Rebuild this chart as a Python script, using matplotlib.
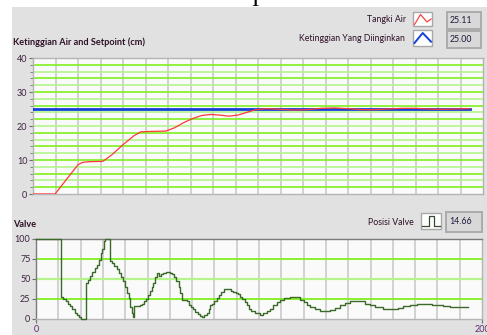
import matplotlib
matplotlib.use('Agg')
import matplotlib.pyplot as plt
from matplotlib.patches import Rectangle
from matplotlib.lines import Line2D
from matplotlib.ticker import MultipleLocator

W, H = 487, 335
plt.rcParams['font.family'] = ['Lato', 'DejaVu Sans']

# water level in the tank (cm)
level_t = [0, 9.8, 20, 22, 25, 31, 35, 40, 45, 48, 52, 59, 63, 67, 71, 75, 79, 83, 87, 91,
           95, 99, 104, 110, 116, 122, 128, 134, 140, 146, 152, 158, 164, 170, 176, 182, 188, 194]
level_v = [0, 0, 8.6, 9.3, 9.5, 9.6, 11.5, 14.5, 17.2, 18.3, 18.4, 18.5, 19.5, 21, 22.2, 23.1, 23.4,
           23.2, 22.9, 23.2, 24.0, 24.8, 25.1, 24.9, 24.7, 24.8, 25.2, 25.3, 25.1, 24.8, 24.8, 25.0,
           25.2, 25.2, 25.0, 24.9, 25.0, 25.11]
setpoint_t = [0, 194]
setpoint_v = [25.0, 25.0]

# valve position (%)
valve_t = [0, 11.1, 12.3, 13.3, 14.3, 15.3, 16.3, 17.3, 18.3, 19.3, 20.3, 22.3, 23.3, 24.3, 25.3,
           26.3, 27.3, 28.3, 29.0, 29.7, 30.4, 30.8, 33.2, 34.2, 35.2, 36.2, 37.2, 38.2, 39.2, 40.0,
           40.8, 41.6, 42.2, 42.9, 43.3, 44.1, 45.5, 46.6, 47.6, 48.6, 49.4, 50.2, 51.0, 51.8, 52.6,
           53.4, 54.2, 55.0, 56.0, 57.0, 58.5, 60.0, 61.0, 62.0, 63.0, 64.0, 64.6, 65.3, 67.5, 68.5,
           69.5, 70.5, 71.5, 72.5, 73.5, 74.5, 75.5, 76.5, 77.5, 78.0, 79.0, 80.0, 81.0, 82.0, 83.0,
           84.3, 85.5, 86.5, 87.5, 88.5, 89.5, 90.5, 91.5, 92.5, 93.5, 94.5, 95.5, 96.5, 98.0, 100.4,
           102.0, 103.5, 105.0, 106.5, 108.0, 109.5, 111.0, 113.9, 116.0, 118.4, 120.0, 121.5, 122.9,
           125.0, 127.4, 130.0, 131.8, 134.0, 136.3, 138.5, 140.8, 143.0, 145.3, 147.5, 149.8, 152.0,
           155.7, 160.2, 162.5, 164.7, 167.5, 170.7, 175.2, 177.5, 179.7, 182.5, 185.6, 190.0, 193.9]
valve_v = [100, 27, 25, 22, 19, 16, 12, 8, 5, 2, 0, 45, 49, 54, 59,
           64, 68, 74, 82, 88, 97, 100, 73, 70, 66, 62, 57, 53, 48, 40,
           33, 26, 15, 8, 3, 16, 16, 17, 19, 22, 25, 30, 35, 40, 45,
           52, 57, 54, 56, 58, 59, 58, 56, 53, 48, 40, 32, 24, 22, 18,
           15, 12, 9, 6, 4, 3, 5, 8, 13, 18, 19, 22, 26, 30, 34,
           37, 38, 37, 35, 34, 33, 31, 28, 25, 21, 17, 13, 10, 8, 5,
           7, 10, 13, 17, 21, 24, 26, 28, 27, 24, 21, 18, 15,
           12, 10, 10, 11, 14, 17, 20, 23, 23, 22, 19, 17, 15,
           13, 12, 14, 16, 17, 18.5, 18.5, 18, 17, 16, 14.5, 14.6, 14.66]

level_ticks = [0, 10, 20, 30, 40]
valve_ticks = [0, 25, 50, 75, 100]
x_ticks = [0, 200]

TXT = '#2e1028'
TICK = '#3e2440'
BG = '#e1e1e1'
FACE = '#fafafa'
VGRID = '#c6c6c6'
GREEN = '#7ef01c'
PALE = '#b4f48a'


def fx(x):
    return x / W


def fy(y):
    return 1 - y / H


def box(fig, x0, y0, x1, y1, face, edge, lw=1.0, z=1):
    fig.patches.append(Rectangle((fx(x0), fy(y1)), fx(x1) - fx(x0), fy(y0) - fy(y1),
                                 transform=fig.transFigure, facecolor=face, edgecolor=edge,
                                 linewidth=lw, zorder=z))


def poly(fig, xs, ys, color, lw):
    fig.lines.append(Line2D([fx(x) for x in xs], [fy(y) for y in ys], transform=fig.transFigure,
                            color=color, linewidth=lw, zorder=3))


fig = plt.figure(figsize=(W / 100, H / 100), dpi=100)
fig.patch.set_facecolor('white')
box(fig, 12, 7, 490, 340, BG, BG, 0, z=-10)

ax1 = fig.add_axes([fx(33), fy(194), fx(483) - fx(33), fy(58) - fy(194)])
ax2 = fig.add_axes([fx(36), fy(319), fx(482) - fx(36), fy(239) - fy(319)])

for ax in (ax1, ax2):
    ax.set_facecolor(FACE)
    ax.set_xlim(0, 200)
    for x in range(10, 200, 10):
        ax.axvline(x, color=VGRID, lw=1.1, zorder=1)
    ax.tick_params(axis='y', labelsize=6.5, colors='#707070', labelcolor=TICK, length=3, pad=1)

# top chart: level and setpoint
ax1.set_ylim(0, 40)
for i, y in enumerate(range(2, 40, 2)):
    ax1.axhline(y, color=GREEN if i % 2 == 0 else PALE, lw=1.2, zorder=1)
ax1.plot(setpoint_t, setpoint_v, color='#1240d8', lw=2.0, zorder=3)
ax1.plot(level_t, level_v, color='#ff3838', lw=0.9, zorder=4)
ax1.set_yticks(level_ticks)
ax1.yaxis.set_minor_locator(MultipleLocator(2))
ax1.tick_params(axis='y', which='minor', length=2, colors='#707070')
ax1.set_xticks([])
for s in ax1.spines.values():
    s.set_color('#b4b4b4')
    s.set_linewidth(1.0)

# bottom chart: valve
ax2.set_ylim(0, 100)
ax2.axhline(25, color=GREEN, lw=1.3, zorder=1)
ax2.axhline(50, color=PALE, lw=1.6, zorder=1)
ax2.axhline(75, color=GREEN, lw=1.3, zorder=1)
ax2.plot(valve_t, valve_v, drawstyle='steps-post', color='#3a6a28', lw=1.0, zorder=3, clip_on=False)
ax2.set_yticks(valve_ticks)
ax2.set_xticks(x_ticks)
ax2.tick_params(axis='x', labelsize=6.5, colors='#707070', labelcolor='#5a2a6a', length=3, pad=1)
for s in ax2.spines.values():
    s.set_color('#7a7a7a')
    s.set_linewidth(1.0)
ax2.spines['bottom'].set_color('#b4b4b4')
ax2.spines['right'].set_color('#b4b4b4')

# titles
fig.text(fx(13), fy(42.7), 'Ketinggian Air and Setpoint (cm)', fontsize=6.6, fontweight='bold',
         color=TXT, va='center', ha='left')
fig.text(fx(13), fy(224.3), 'Valve', fontsize=6.6, fontweight='bold', color=TXT, va='center', ha='left')

# legend for top chart
fig.text(fx(406), fy(19), 'Tangki Air', fontsize=6.3, color=TXT, ha='right', va='center')
fig.text(fx(405), fy(38.3), 'Ketinggian Yang Diinginkan', fontsize=6.3, color=TXT, ha='right', va='center')
box(fig, 413, 11.7, 432, 26, 'white', '#a8a8a8')
poly(fig, [414.5, 420.5, 427, 431], [24.5, 14.5, 22, 19], '#ff4040', 0.9)
box(fig, 413, 30, 432, 45.7, 'white', '#a8a8a8')
poly(fig, [414.5, 422.7, 431], [43, 33, 41.7], '#1240d8', 1.4)
box(fig, 446.7, 11.7, 481, 29.3, '#d8d8d8', '#ababab', 1.4)
box(fig, 446.7, 31, 481, 48.3, '#d8d8d8', '#ababab', 1.4)
fig.text(fx(450), fy(20.5), '%.2f' % level_v[-1], fontsize=6.3, color='#1a1a3a', ha='left', va='center')
fig.text(fx(450), fy(39.6), '%.2f' % setpoint_v[-1], fontsize=6.3, color='#1a1a3a', ha='left', va='center')

# legend for bottom chart
fig.text(fx(413.5), fy(222.5), 'Posisi Valve', fontsize=6.3, color=TXT, ha='right', va='center')
box(fig, 421, 213.3, 440.5, 229.3, 'white', '#a8a8a8')
poly(fig, [422, 429.3, 429.3, 434.3, 434.3, 439.5], [225.7, 225.7, 216, 216, 225.7, 225.7], '#3a4a30', 0.9)
box(fig, 446, 211.7, 481.7, 231.7, '#d8d8d8', '#ababab', 1.4)
fig.text(fx(449.3), fy(221.7), '%.2f' % valve_v[-1], fontsize=6.3, color='#1a1a3a', ha='left', va='center')

# stray glyph from the page above
fig.text(fx(255), fy(5.5), 'I', fontsize=16, family='Liberation Serif', color='black',
         ha='center', va='baseline')

fig.savefig('out.png', dpi=100)
